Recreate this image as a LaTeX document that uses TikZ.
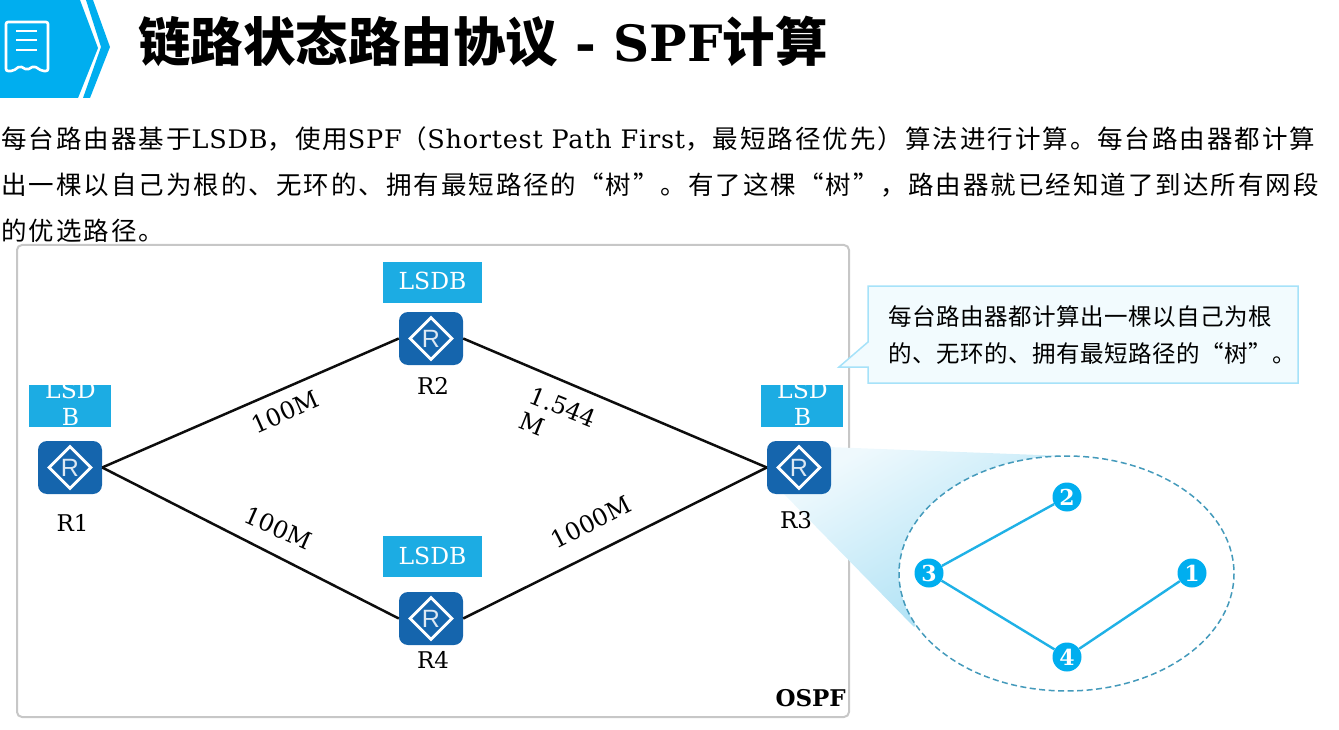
\documentclass[tikz,border=0pt]{standalone}
\usepackage{fontspec}
\usetikzlibrary{shapes.geometric}
\setmainfont{DejaVu Serif}
\newfontfamily\cj{Noto Sans CJK SC}
\newfontfamily\bcj[LetterSpace=7.8]{Noto Sans CJK SC}
\newfontfamily\blat[LetterSpace=3]{DejaVu Serif}
\newfontfamily\ccj[LetterSpace=2.2]{Noto Sans CJK SC}
\newfontfamily\rsans{Liberation Sans}
\newcommand{\fs}[1]{\fontsize{#1}{#1}\selectfont}
\newcommand{\B}[1]{{\bcj #1}}
\definecolor{hdr}{HTML}{00AEEF}
\definecolor{lsdb}{HTML}{1CACE3}
\definecolor{rtr}{HTML}{1565AD}
\definecolor{tree}{HTML}{1FB1E6}
\tikzset{
  routerbox/.style={draw=none,fill=rtr,rounded corners=9pt,minimum width=64pt,minimum height=53pt,inner sep=0pt},
  rmark/.style={diamond,aspect=1,draw=white,line width=2.8pt,minimum width=43pt,minimum height=43pt,inner sep=0pt,text=white!85!rtr,font=\rsans\fs{25}},
  lsdbbox/.style={fill=lsdb,inner sep=0pt,text=white,font=\fs{23.5}},
  lsdbwrap/.style={text=white,align=center,inner sep=0pt,font=\fontsize{23.5}{27}\selectfont},
  rlabel/.style={inner sep=0pt,font=\fs{23}},
  linklabel/.style={inner sep=0pt,font=\fontsize{24}{27}\selectfont},
  link/.style={line width=2.5pt,black!95},
  treenode/.style={circle,fill=hdr,minimum size=29pt,inner sep=0pt,text=white,font=\bfseries\fs{22}},
  treelink/.style={line width=2.4pt,tree},
  bodyline/.style={anchor=base west,inner sep=0pt,font=\fs{25.5}},
  calloutline/.style={anchor=base west,inner sep=0pt,font=\ccj\fs{23.5}}
}
\newcommand{\router}[3]{\node[routerbox] (#1) at (#2,#3) {}; \node[rmark] (#1m) at (#1.center) {R};}
\begin{document}
\begin{tikzpicture}[x=1pt,y=-1pt]
\useasboundingbox (0,0) rectangle (1339,730);
% header
\fill[hdr] (0,0) -- (80,0) -- (98,48) -- (78,98) -- (0,98) -- cycle;
\fill[hdr] (86,0) -- (93,0) -- (110,47) -- (90,98) -- (83,98) -- (101,47) -- cycle;
\draw[white,line width=2.6pt,line join=round,rounded corners=2pt] (6,22) -- (48,22) -- (48,71) -- (42,71) -- (34,66) -- (27,70) -- (20,66) -- (13,71) -- (6,71) -- cycle;
\draw[white,line width=2.6pt] (16,31) -- (37,31) (16,40) -- (37,40) (16,50) -- (37,50);
\node[anchor=base west,inner sep=0pt,font=\bfseries\fs{50}] (title) at (138,62) {{\cj\fs{52.5}链路状态路由协议} - SPF{\cj\fs{52.5}计算}};
% body
\node[bodyline] (l1) at (1,148.5) {\B{每台路由器基于}{\blat LSDB}\B{，使用}{\blat SPF}\B{（}{\blat Shortest Path First}\B{，最短路径优先）算法进行计算。每台路由器都计算}};
\node[bodyline] (l2) at (1,194.5) {\B{出一棵以自己为根的、无环的、拥有最短路径的“树”。有了这棵“树”，路由器就已经知道了到达所有网段}};
\node[bodyline] (l3) at (1,240.5) {\B{的优选路径。}};
% frame
\draw[draw=black!22,line width=2pt,rounded corners=5pt] (17,245) rectangle (849,717);
% fan
\path[shade,top color=white!93!lsdb,bottom color=lsdb!40,shading angle=30] (828,447) -- (1066,456) -- (1000,520) -- (914,627) -- (783,493) -- cycle;
\draw[dashed,dash pattern=on 6pt off 3.5pt,draw=lsdb!75!black!80,fill=white,line width=1.5pt] (1066.5,573.5) ellipse [x radius=167.5,y radius=117.5];
% routers and links
\router{R1}{70}{467.5}
\router{R2}{431}{338.5}
\router{R3}{799}{467.5}
\router{R4}{431}{618.5}
\draw[link] (R1.east) -- (R2.west);
\draw[link] (R2.east) -- (R3.west);
\draw[link] (R1.east) -- (R4.west);
\draw[link] (R4.east) -- (R3.west);
% LSDB
\node[lsdbbox,minimum width=99pt,minimum height=41pt] (d2) at (432.5,282.5) {\raisebox{-7.5pt}[0pt][0pt]{LSDB}};
\node[lsdbbox,minimum width=99pt,minimum height=41pt] (d4) at (432.5,556.5) {\raisebox{-7.5pt}[0pt][0pt]{LSDB}};
\node[lsdbbox,minimum width=82pt,minimum height=42pt] (d1) at (70,406) {};
\node[lsdbbox,minimum width=82pt,minimum height=42pt] (d3) at (802,406) {};
\begin{scope}
\clip (29,385) rectangle (111,427);
\node[lsdbwrap] (d1t) at (70.5,403.5) {LSD\\B};
\end{scope}
\begin{scope}
\clip (761,385) rectangle (843,427);
\node[lsdbwrap] (d3t) at (802.5,403.5) {LSD\\B};
\end{scope}
% labels
\node[rlabel] (n1) at (72.5,523) {R1};
\node[rlabel] (n2) at (433,386) {R2};
\node[rlabel] (n3) at (796,520) {R3};
\node[rlabel] (n4) at (433,660) {R4};
\node[linklabel,rotate=24] (e12) at (285,412) {100M};
\node[linklabel,rotate=-24] (e14) at (278,528) {100M};
\node[linklabel,rotate=27] (e43) at (591,522) {1000M};
\node[linklabel,rotate=-22,align=left] (e23) at (558,419.5) {1.544\\M};
\node[anchor=base east,inner sep=0pt,font=\bfseries\fs{23}] (ospf) at (846,706) {OSPF};
% callout
\draw[draw=cyan!35,fill=cyan!5,line width=1.5pt] (868,286) -- (1298,286) -- (1298,383) -- (868,383) -- (868,367) -- (839,367) -- (868,342) -- cycle;
\node[calloutline] (c1) at (888,325) {每台路由器都计算出一棵以自己为根};
\node[calloutline] (c2) at (888,362) {的、无环的、拥有最短路径的“树”。};
% tree
\node[treenode] (t2) at (1067,497) {2};
\node[treenode] (t3) at (929,573) {3};
\node[treenode] (t1) at (1192,573) {1};
\node[treenode] (t4) at (1067,657) {4};
\draw[treelink] (t3) -- (t2);
\draw[treelink] (t3) -- (t4);
\draw[treelink] (t4) -- (t1);
\end{tikzpicture}
\end{document}
